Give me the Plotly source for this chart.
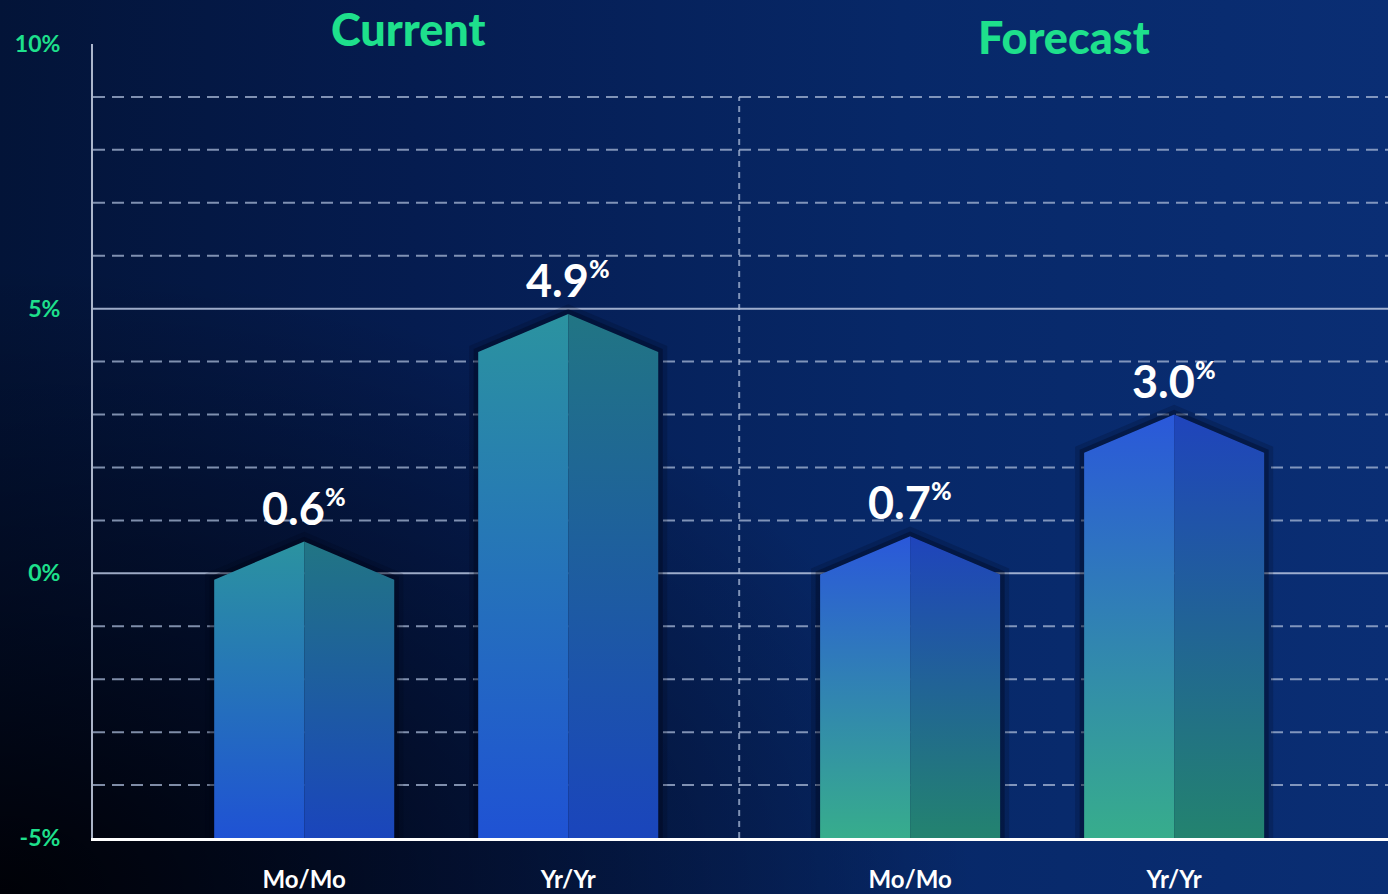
import base64
import plotly.graph_objects as go

# ---------------- data ----------------
categories = ["Mo/Mo", "Yr/Yr", "Mo/Mo", "Yr/Yr"]
groups = ["Current", "Current", "Forecast", "Forecast"]
values = [0.6, 4.9, 0.7, 3.0]
group_titles = ["Current", "Forecast"]
y_tick_vals = [-5, 0, 5, 10]
y_tick_text = ["-5%", "0%", "5%", "10%"]

# ---------------- style ----------------
W, H = 1388, 894
ML, MR, MT, MB = 93, 0, 44, 56
Y_MIN, Y_MAX = -5, 10
X_MAX = 4.905
HALF_W = 0.341
ROOF = 0.72
GROUP_GAP = 0.295
GREEN = "#1ee08c"
face_colors = {
    "Current": {"lt": "#2b93a0", "lb": "#1f52d4", "rt": "#217584", "rb": "#1a45bc"},
    "Forecast": {"lt": "#2a58da", "lb": "#37ad8c", "rt": "#1f44bc", "rb": "#23836f"},
}

group_idx = [group_titles.index(g) for g in groups]
pos = [0.8 + i + GROUP_GAP * gi for i, gi in enumerate(group_idx)]

# background gradient as svg image
svg = f"""<svg xmlns='http://www.w3.org/2000/svg' width='{W}' height='{H}' viewBox='0 0 {W} {H}' preserveAspectRatio='none'>
<defs>
<linearGradient id='g' x1='0' y1='0' x2='1' y2='0'>
<stop offset='0' stop-color='#031438'/>
<stop offset='0.3' stop-color='#051c50'/>
<stop offset='0.65' stop-color='#072868'/>
<stop offset='1' stop-color='#0a2e74'/>
</linearGradient>
<radialGradient id='r' cx='0' cy='1' r='0.7'>
<stop offset='0' stop-color='#000004' stop-opacity='0.95'/>
<stop offset='0.45' stop-color='#000006' stop-opacity='0.5'/>
<stop offset='1' stop-color='#000008' stop-opacity='0'/>
</radialGradient>
</defs>
<rect width='{W}' height='{H}' fill='url(#g)'/>
<rect width='{W}' height='{H}' fill='url(#r)'/>
</svg>"""
bg_uri = "data:image/svg+xml;base64," + base64.b64encode(svg.encode()).decode()

pw, ph = W - ML - MR, H - MT - MB

fig = go.Figure()

# shadows
for c, v in zip(pos, values):
    xs = [c - HALF_W, c - HALF_W, c, c + HALF_W, c + HALF_W, c - HALF_W]
    ys = [Y_MIN, v - ROOF, v, v - ROOF, Y_MIN, Y_MIN]
    for lw, a in [(18, 0.18), (9, 0.3)]:
        fig.add_trace(go.Scatter(x=xs, y=ys, mode="lines", fill="toself",
                                 fillcolor=f"rgba(0,3,20,{a})",
                                 line=dict(color=f"rgba(0,3,20,{a})", width=lw),
                                 hoverinfo="skip", showlegend=False))

# bar faces
for c, v, g in zip(pos, values, groups):
    fc = face_colors[g]
    left_x = [c - HALF_W, c - HALF_W, c, c, c - HALF_W]
    left_y = [Y_MIN, v - ROOF, v, Y_MIN, Y_MIN]
    right_x = [c, c, c + HALF_W, c + HALF_W, c]
    right_y = [Y_MIN, v, v - ROOF, Y_MIN, Y_MIN]
    fig.add_trace(go.Scatter(x=left_x, y=left_y, mode="lines", fill="toself",
                             fillgradient=dict(type="vertical",
                                               colorscale=[[0, fc["lb"]], [1, fc["lt"]]]),
                             line=dict(width=0), hoverinfo="skip", showlegend=False))
    fig.add_trace(go.Scatter(x=right_x, y=right_y, mode="lines", fill="toself",
                             fillgradient=dict(type="vertical",
                                               colorscale=[[0, fc["rb"]], [1, fc["rt"]]]),
                             line=dict(width=0), hoverinfo="skip", showlegend=False))

shapes = []
# horizontal grid
for lvl in range(Y_MIN + 1, Y_MAX):
    solid = lvl in y_tick_vals
    shapes.append(dict(type="line", xref="paper", x0=0, x1=1, yref="y", y0=lvl, y1=lvl,
                       layer="below",
                       line=dict(color="rgba(185,198,225,0.85)" if solid else "rgba(170,185,215,0.75)",
                                 width=2, dash="solid" if solid else "12px,7px")))
# vertical separator between groups
sep = (pos[1] + pos[2]) / 2
shapes.append(dict(type="line", xref="x", x0=sep, x1=sep, yref="y", y0=Y_MIN, y1=Y_MAX - 1,
                   layer="below", line=dict(color="rgba(170,185,215,0.75)", width=2, dash="6px,5px")))

annotations = []
for c, v in zip(pos, values):
    annotations.append(dict(x=c, y=v, xref="x", yref="y", showarrow=False,
                            text=f"<b>{v:.1f}</b><sup><span style='font-size:25px'>%</span></sup>",
                            yshift=34, yanchor="middle",
                            font=dict(family="Lato", size=45, color="white", weight=900)))
title_px = [(408, 29), (1064, 37)]
for t, (px, py) in zip(group_titles, title_px):
    annotations.append(dict(x=(px - ML) / pw, y=1 + (MT - py) / ph, xref="paper", yref="paper",
                            showarrow=False, text=t, xanchor="center", yanchor="middle",
                            font=dict(family="Lato", size=45, color=GREEN, weight=900)))

fig.update_layout(
    width=W, height=H,
    margin=dict(l=ML, r=MR, t=MT, b=MB, autoexpand=False),
    paper_bgcolor="#04184a", plot_bgcolor="rgba(0,0,0,0)",
    images=[dict(source=bg_uri, xref="paper", yref="paper",
                 x=-ML / pw, y=1 + MT / ph, sizex=W / pw, sizey=H / ph,
                 sizing="stretch", layer="below", xanchor="left", yanchor="top")],
    xaxis=dict(range=[0, X_MAX], showgrid=False, zeroline=False, automargin=False,
               tickvals=pos, ticktext=categories, ticks="", ticklabelstandoff=18,
               tickfont=dict(family="Lato", size=24, color="white", weight=700),
               showline=True, linecolor="white", linewidth=3, fixedrange=True),
    yaxis=dict(range=[Y_MIN, Y_MAX], showgrid=False, zeroline=False, automargin=False,
               tickvals=y_tick_vals, ticktext=y_tick_text, ticks="", ticklabelstandoff=26,
               tickfont=dict(family="Lato", size=23, color=GREEN, weight=700),
               showline=True, linecolor="rgba(190,200,220,0.9)", linewidth=2, fixedrange=True),
    shapes=shapes, annotations=annotations, showlegend=False,
)

fig.write_html("out.html")
